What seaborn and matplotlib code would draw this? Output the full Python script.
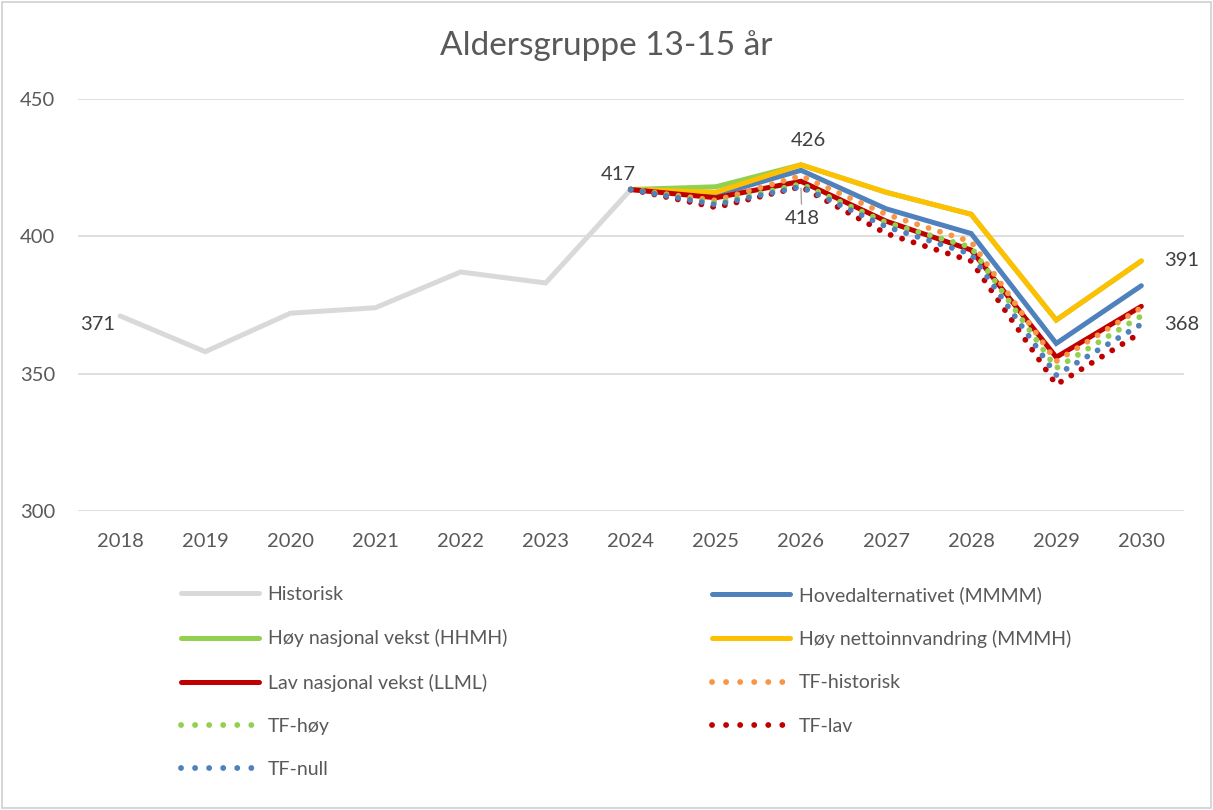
import numpy as np
import pandas as pd
import seaborn as sns
import matplotlib.pyplot as plt
from matplotlib.lines import Line2D
from matplotlib.patches import Rectangle

# Data
hist_years = [2018, 2019, 2020, 2021, 2022, 2023, 2024]
historisk = [371, 358, 372, 374, 387, 383, 417]

proj_years = [2024, 2025, 2026, 2027, 2028, 2029, 2030]
hovedalternativet = [417, 415, 424, 410, 401, 361, 382]
hoy_nasjonal = [417, 418, 426, 416, 408, 369.5, 391]
hoy_netto = [417, 416, 426, 416, 408, 369.5, 391]
lav_nasjonal = [417, 414, 420, 405.5, 395, 356, 374.5]
tf_historisk = [417, 413, 422, 408, 398, 354.5, 374]
tf_hoy = [417, 412, 419, 405, 396, 352, 371]
tf_lav = [417, 410.5, 418, 401, 391, 346, 365]
tf_null = [417, 411.5, 418, 403.5, 393.5, 349.5, 368]

all_years = list(range(2018, 2031))

series = [
    ("Historisk", hist_years, historisk, "#D9D9D9", "solid"),
    ("Hovedalternativet (MMMM)", proj_years, hovedalternativet, "#4F81BD", "solid"),
    ("Høy nasjonal vekst (HHMH)", proj_years, hoy_nasjonal, "#92D050", "solid"),
    ("Høy nettoinnvandring (MMMH)", proj_years, hoy_netto, "#FFC000", "solid"),
    ("Lav nasjonal vekst (LLML)", proj_years, lav_nasjonal, "#C00000", "solid"),
    ("TF-historisk", proj_years, tf_historisk, "#F79646", "dot"),
    ("TF-høy", proj_years, tf_hoy, "#92D050", "dot"),
    ("TF-lav", proj_years, tf_lav, "#C00000", "dot"),
    ("TF-null", proj_years, tf_null, "#4F81BD", "dot"),
]

sns.set_theme(style="white")
plt.rcParams['font.family'] = ['Lato', 'DejaVu Sans']

fig = plt.figure(figsize=(12.13, 8.10), dpi=100)
ax = fig.add_axes([0.064, 0.369, 0.912, 0.509])

dot_style = (0, (0.01, 2.05))
leg_dot_style = (0, (0.01, 2.4))
handles = []
for name, xs, ys, col, kind in series:
    df = pd.DataFrame({"year": xs, "value": ys})
    if kind == "solid":
        sns.lineplot(data=df, x="year", y="value", ax=ax, color=col, linewidth=3.6,
                     solid_capstyle="round", solid_joinstyle="miter")
        h = Line2D([], [], color=col, linewidth=3.6, solid_capstyle="round")
    else:
        sns.lineplot(data=df, x="year", y="value", ax=ax, color=col, linewidth=4.2,
                     linestyle=dot_style, dash_capstyle="round")
        h = Line2D([], [], color=col, linewidth=4.2, linestyle=leg_dot_style, dash_capstyle="round")
    handles.append((h, name))

ax.set_xlim(2017.5, 2030.5)
ax.set_ylim(300, 450)
ax.set_xticks(all_years)
ax.set_xticklabels([str(y) for y in all_years])
ax.set_yticks([300, 350, 400, 450])
ax.set_xlabel("")
ax.set_ylabel("")
ax.grid(axis="y", color="#D9D9D9", linewidth=1.2)
ax.grid(axis="x", visible=False)
for s in ax.spines.values():
    s.set_visible(False)
ax.tick_params(axis="both", length=0, labelsize=14.5, labelcolor="#595959")
ax.tick_params(axis="y", pad=16)
ax.tick_params(axis="x", pad=16)

fig.text(0.5, 0.944, "Aldersgruppe 13-15 år", ha="center", va="center",
         fontsize=24, color="#595959")

# Data labels
lab_kw = dict(textcoords="offset pixels", fontsize=14.5, color="#404040")
ax.annotate("371", (2018, historisk[0]), xytext=(-5, -9), ha="right", va="center", **lab_kw)
ax.annotate("417", (2024, historisk[-1]), xytext=(-12, 15), ha="center", va="center", **lab_kw)
ax.annotate("426", (2026, hoy_netto[2]), xytext=(7, 24), ha="center", va="center", **lab_kw)
ax.annotate("418", (2026, tf_null[2]), xytext=(1, -32), ha="center", va="center",
            arrowprops=dict(arrowstyle="-", color="#A6A6A6", lw=1, shrinkA=2, shrinkB=1), **lab_kw)
ax.annotate("391", (2030, hoy_netto[-1]), xytext=(23, 0), ha="left", va="center", **lab_kw)
ax.annotate("368", (2030, tf_null[-1]), xytext=(23, 0), ha="left", va="center", **lab_kw)

# Legend in two columns (Excel order: row-wise)
leg_kw = dict(frameon=False, fontsize=14, handlelength=4.0, handletextpad=0.45,
              labelspacing=1.35, borderpad=0, borderaxespad=0, loc="upper left",
              labelcolor="#595959")
left = [handles[i] for i in (0, 2, 4, 6, 8)]
right = [handles[i] for i in (1, 3, 5, 7)]
leg1 = fig.legend([h for h, _ in left], [n for _, n in left],
                  bbox_to_anchor=(181 / 1213, 1 - 586 / 810), **leg_kw)
leg2 = fig.legend([h for h, _ in right], [n for _, n in right],
                  bbox_to_anchor=(712 / 1213, 1 - 586 / 810), **leg_kw)

# Chart border
fig.patches.append(Rectangle((0.002, 0.002), 0.996, 0.996, transform=fig.transFigure,
                             fill=False, edgecolor="#D0D0D0", linewidth=1.2))

fig.savefig("out.png", dpi=100)
